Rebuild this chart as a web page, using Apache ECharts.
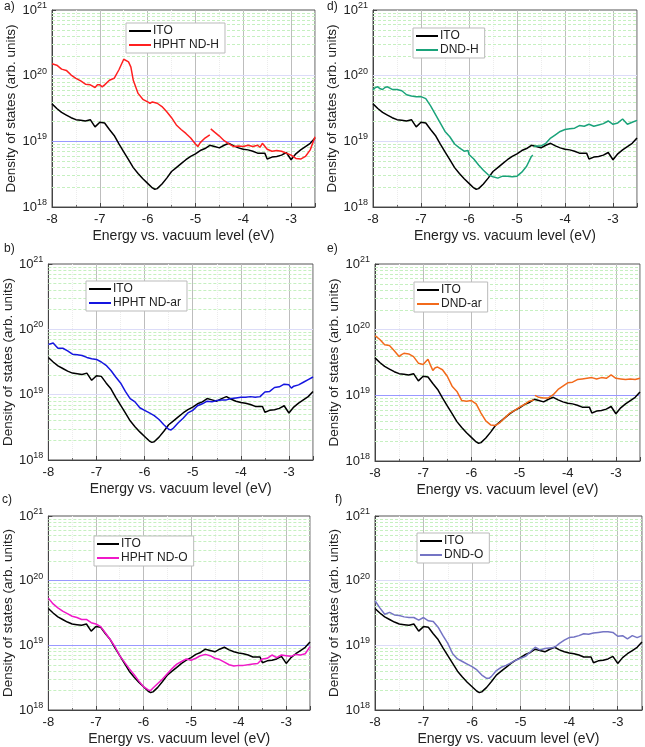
<!DOCTYPE html>
<html><head><meta charset="utf-8">
<script src="https://cdn.jsdelivr.net/npm/echarts@6/dist/echarts.min.js"></script>
<style>html,body{margin:0;padding:0;background:#fff}#c{width:645px;height:747px}</style>
</head><body><div id="c"></div>
<script>
// ---------- DATA (energies in eV, densities as log10 of arb. units) ----------
const xTicks = [-8, -7, -6, -5, -4, -3];
const yTickExponents = [18, 19, 20, 21];

const itoE = [-8.0,-7.9,-7.8,-7.7,-7.6,-7.5,-7.4,-7.3,-7.2,-7.1,-7.0,-6.9,-6.8,-6.7,-6.6,-6.5,-6.4,-6.3,-6.2,-6.1,-6.0,-5.9,-5.85,-5.8,-5.7,-5.6,-5.5,-5.4,-5.3,-5.2,-5.1,-5.0,-4.9,-4.8,-4.7,-4.6,-4.5,-4.4,-4.3,-4.2,-4.1,-4.0,-3.9,-3.8,-3.7,-3.6,-3.55,-3.5,-3.4,-3.3,-3.2,-3.1,-3.0,-2.9,-2.8,-2.7,-2.6,-2.5];
const itoLog = [19.57,19.50,19.44,19.40,19.36,19.33,19.32,19.31,19.33,19.22,19.29,19.28,19.18,19.09,18.96,18.84,18.72,18.60,18.51,18.43,18.36,18.29,18.27,18.28,18.35,18.44,18.54,18.60,18.66,18.72,18.77,18.81,18.86,18.89,18.94,18.92,18.90,18.94,18.97,18.93,18.90,18.88,18.87,18.85,18.82,18.82,18.82,18.73,18.76,18.77,18.79,18.83,18.72,18.81,18.87,18.92,18.97,19.05];

const ndHE = [-8.0,-7.9,-7.8,-7.7,-7.6,-7.5,-7.4,-7.3,-7.2,-7.1,-7.05,-7.0,-6.95,-6.9,-6.8,-6.7,-6.6,-6.5,-6.47,-6.4,-6.35,-6.3,-6.2,-6.1,-6.0,-5.95,-5.9,-5.8,-5.7,-5.6,-5.5,-5.4,-5.3,-5.2,-5.1,-5.0,-4.95,-4.9,-4.8,-4.7,-4.69,-4.68,-4.6,-4.5,-4.4,-4.3,-4.2,-4.1,-4.0,-3.9,-3.8,-3.7,-3.65,-3.6,-3.5,-3.4,-3.3,-3.2,-3.1,-3.0,-2.9,-2.8,-2.7,-2.6,-2.5];
const ndHLog = [20.18,20.16,20.10,20.08,20.01,19.96,19.92,19.87,19.86,19.82,19.86,19.86,19.83,19.86,19.93,19.96,20.09,20.25,20.26,20.21,20.13,19.93,19.73,19.64,19.60,19.58,19.60,19.58,19.53,19.45,19.36,19.25,19.18,19.12,19.05,18.96,18.92,18.98,19.05,19.10,null,19.19,19.14,19.08,19.01,18.96,18.92,18.93,18.92,18.94,18.92,18.94,18.91,18.97,18.88,18.85,18.86,18.85,18.82,18.79,18.74,18.73,18.77,18.87,19.07];

const ndArE = [-8.0,-7.95,-7.9,-7.85,-7.8,-7.7,-7.6,-7.5,-7.4,-7.3,-7.2,-7.1,-7.0,-6.9,-6.8,-6.7,-6.6,-6.5,-6.4,-6.3,-6.2,-6.1,-6.0,-5.9,-5.8,-5.7,-5.6,-5.5,-5.45,-5.4,-5.3,-5.2,-5.1,-5.0,-4.9,-4.8,-4.7,-4.6,-4.5,-4.4,-4.3,-4.2,-4.1,-4.0,-3.9,-3.8,-3.7,-3.6,-3.5,-3.4,-3.3,-3.2,-3.1,-3.0,-2.95,-2.9,-2.8,-2.7,-2.6,-2.5];
const ndArLog = [19.77,19.78,19.79,19.75,19.71,19.71,19.67,19.62,19.61,19.60,19.57,19.55,19.54,19.50,19.45,19.37,19.27,19.18,19.05,18.94,18.89,18.80,18.76,18.72,18.68,18.62,18.54,18.47,18.46,18.49,18.57,18.64,18.72,18.76,18.83,18.86,18.90,18.89,18.91,18.92,18.92,18.94,18.95,18.96,18.96,18.97,18.96,18.97,19.04,19.05,19.11,19.12,19.16,19.15,19.10,19.13,19.15,19.19,19.23,19.27];

const ndOE = [-8.0,-7.9,-7.8,-7.7,-7.6,-7.5,-7.4,-7.3,-7.2,-7.1,-7.0,-6.9,-6.8,-6.7,-6.6,-6.5,-6.4,-6.3,-6.2,-6.1,-6.0,-5.9,-5.85,-5.8,-5.7,-5.6,-5.5,-5.4,-5.3,-5.2,-5.1,-5.0,-4.9,-4.8,-4.7,-4.6,-4.5,-4.4,-4.3,-4.2,-4.1,-4.0,-3.9,-3.8,-3.7,-3.6,-3.5,-3.4,-3.3,-3.2,-3.1,-3.0,-2.9,-2.8,-2.7,-2.6,-2.5];
const ndOLog = [19.73,19.64,19.58,19.53,19.49,19.45,19.43,19.40,19.40,19.35,19.33,19.29,19.19,19.09,18.98,18.84,18.74,18.64,18.55,18.45,18.36,18.31,18.30,18.34,18.41,18.48,18.56,18.64,18.71,18.75,18.79,18.77,18.80,18.84,18.86,18.84,18.80,18.78,18.74,18.70,18.68,18.69,18.69,18.70,18.71,18.72,18.79,18.80,18.85,18.81,18.85,18.84,18.83,18.86,18.85,18.87,18.98];

const dndHE = [-8.0,-7.95,-7.9,-7.85,-7.8,-7.75,-7.7,-7.6,-7.5,-7.4,-7.3,-7.2,-7.1,-7.0,-6.9,-6.8,-6.7,-6.6,-6.5,-6.4,-6.3,-6.2,-6.1,-6.02,-6.0,-5.9,-5.8,-5.7,-5.6,-5.5,-5.4,-5.3,-5.2,-5.1,-5.0,-4.9,-4.8,-4.7,-4.67,-4.66,-4.65,-4.6,-4.5,-4.4,-4.3,-4.2,-4.1,-4.0,-3.9,-3.8,-3.7,-3.6,-3.5,-3.4,-3.3,-3.2,-3.1,-3.0,-2.9,-2.8,-2.7,-2.6,-2.5];
const dndHLog = [19.78,19.82,19.83,19.80,19.79,19.82,19.83,19.79,19.79,19.77,19.71,19.69,19.68,19.68,19.65,19.54,19.41,19.28,19.15,19.07,18.96,18.90,18.85,18.86,18.80,18.73,18.64,18.56,18.49,18.46,18.44,18.47,18.47,18.46,18.47,18.53,18.62,18.77,18.79,null,18.92,18.93,18.93,18.97,19.05,19.10,19.15,19.18,19.19,19.20,19.24,19.23,19.26,19.23,19.25,19.27,19.31,19.26,19.28,19.34,19.26,19.29,19.32];

const dndArE = [-8.0,-7.9,-7.8,-7.7,-7.6,-7.5,-7.45,-7.4,-7.3,-7.2,-7.1,-7.0,-6.95,-6.9,-6.85,-6.8,-6.75,-6.7,-6.6,-6.5,-6.4,-6.3,-6.2,-6.1,-6.0,-5.9,-5.8,-5.7,-5.6,-5.5,-5.4,-5.3,-5.2,-5.1,-5.0,-4.9,-4.8,-4.7,-4.69,-4.68,-4.6,-4.5,-4.4,-4.3,-4.2,-4.1,-4.0,-3.9,-3.8,-3.7,-3.6,-3.5,-3.4,-3.3,-3.2,-3.1,-3.0,-2.9,-2.8,-2.7,-2.6,-2.5];
const dndArLog = [19.91,19.85,19.77,19.76,19.68,19.59,19.62,19.64,19.63,19.59,19.49,19.47,19.51,19.55,19.46,19.38,19.42,19.43,19.39,19.29,19.14,19.06,18.92,18.91,18.92,18.87,18.73,18.61,18.55,18.54,18.59,18.66,18.73,18.77,18.82,18.86,18.91,18.93,null,19.00,18.97,18.96,18.96,19.01,19.09,19.14,19.19,19.20,19.24,19.25,19.26,19.27,19.25,19.27,19.26,19.31,19.26,19.25,19.24,19.25,19.24,19.26];

const dndOE = [-8.0,-7.9,-7.8,-7.7,-7.6,-7.5,-7.4,-7.3,-7.2,-7.1,-7.0,-6.9,-6.8,-6.7,-6.6,-6.5,-6.4,-6.3,-6.2,-6.1,-6.0,-5.9,-5.8,-5.7,-5.65,-5.6,-5.5,-5.4,-5.3,-5.2,-5.1,-5.0,-4.9,-4.8,-4.7,-4.6,-4.5,-4.4,-4.3,-4.2,-4.1,-4.0,-3.9,-3.8,-3.7,-3.6,-3.5,-3.4,-3.3,-3.2,-3.1,-3.0,-2.9,-2.8,-2.7,-2.6,-2.5];
const dndOLog = [19.69,19.58,19.48,19.51,19.47,19.46,19.44,19.43,19.43,19.39,19.43,19.38,19.37,19.28,19.15,19.03,18.87,18.79,18.75,18.71,18.67,18.62,18.54,18.49,18.49,18.52,18.61,18.66,18.69,18.73,18.77,18.80,18.83,18.90,18.97,18.93,18.95,18.96,18.97,19.03,19.08,19.12,19.13,19.15,19.18,19.17,19.19,19.20,19.21,19.21,19.20,19.14,19.15,19.10,19.15,19.12,19.15];

// ---------- LAYOUT ----------
const FONT = 'Liberation Sans, Arial, sans-serif';
const panels = [
  {label:'a)', lx:4,   ly:1,   grid:{left:52, top:10, width:263, height:197}, name:'HPHT ND-H', color:'#ff2020', E:ndHE, L:ndHLog, leg:{left:126, top:23}, strong:[19]},
  {label:'b)', lx:4,   ly:243, grid:{left:48, top:264, width:265, height:196}, name:'HPHT ND-ar', color:'#1515e0', E:ndArE, L:ndArLog, leg:{left:86, top:281}, strong:[]},
  {label:'c)', lx:2,   ly:494, grid:{left:47, top:516, width:263, height:197}, name:'HPHT ND-O', color:'#f018c8', E:ndOE, L:ndOLog, leg:{left:94, top:536}, strong:[19,20]},
  {label:'d)', lx:327, ly:1,   grid:{left:373, top:10, width:264, height:197}, name:'DND-H', color:'#1aa37a', E:dndHE, L:dndHLog, leg:{left:413, top:28}, strong:[]},
  {label:'e)', lx:327, ly:243, grid:{left:375, top:264, width:265, height:197}, name:'DND-ar', color:'#f26a1b', E:dndArE, L:dndArLog, leg:{left:414, top:282}, strong:[19]},
  {label:'f)', lx:335, ly:494, grid:{left:375, top:516, width:267, height:196}, name:'DND-O', color:'#7474c4', E:dndOE, L:dndOLog, leg:{left:417, top:533}, strong:[]}
];

function pairs(E, L) { return E.map((e, i) => [e, L[i] === null ? '-' : Math.pow(10, L[i])]); }

const grids = [], xAxes = [], yAxes = [], series = [], legends = [], graphics = [];
panels.forEach((p, k) => {
  grids.push(Object.assign({show:true, borderColor:'#555', borderWidth:1, backgroundColor:'transparent'}, p.grid));
  xAxes.push({
    type:'value', gridIndex:k, min:-8, max:-2.5, interval:1,
    name:'Energy vs. vacuum level (eV)', nameLocation:'middle', nameGap:22,
    nameTextStyle:{fontFamily:FONT, fontSize:14, color:'#222'},
    axisLine:{show:true, onZero:false, lineStyle:{color:'#444'}},
    axisTick:{inside:true, length:4, lineStyle:{color:'#444'}},
    minorTick:{show:true, splitNumber:2, length:2, lineStyle:{color:'#666'}},
    axisLabel:{fontFamily:FONT, fontSize:13, color:'#222', margin:6,
      formatter: v => xTicks.includes(v) ? String(v) : ''},
    splitLine:{show:true, lineStyle:{color:'#bdbdbd', width:1}},
    minorSplitLine:{show:true, lineStyle:{color:'#ececec', type:'dotted'}}
  });
  yAxes.push({
    type:'log', logBase:10, gridIndex:k, min:1e18, max:1e21, interval:1,
    name:'Density of states (arb. units)', nameLocation:'middle', nameGap:33,
    nameTextStyle:{fontFamily:FONT, fontSize:13.5, color:'#222'},
    axisLine:{show:true, onZero:false, lineStyle:{color:'#444'}},
    axisTick:{inside:true, length:4, lineStyle:{color:'#444'}},
    axisLabel:{fontFamily:FONT, fontSize:13, color:'#222', margin:5,
      formatter: v => { const ex = Math.round(Math.log10(v)); return yTickExponents.includes(ex) ? '10{s|' + ex + '}' : ''; },
      rich:{s:{fontSize:9, fontFamily:FONT, color:'#222', verticalAlign:'top', padding:[0,0,9,0]}}},
    splitLine:{show:false}
  });
  // grid lines: log-minor (2..9 x 10^n) dashed green, decades blue
  const ml = [];
  for (let ex = 18; ex <= 20; ex++) {
    for (let m = 2; m <= 9; m++) ml.push({yAxis: m * Math.pow(10, ex)});
    if (ex > 18) ml.push({yAxis: Math.pow(10, ex), lineStyle:{color: p.strong.includes(ex) ? '#9999ff' : '#dcdcf8', type:'solid', width:1}});
  }
  series.push({
    name:'ITO', type:'line', xAxisIndex:k, yAxisIndex:k, data:pairs(itoE, itoLog),
    showSymbol:false, symbol:'none', z:3, lineStyle:{color:'#000', width:1.5}, itemStyle:{color:'#000'},
    markLine:{silent:true, symbol:'none', label:{show:false}, animation:false, z:1,
      lineStyle:{color:'#c6f0c0', type:[3,2], width:1}, data:ml}
  });
  series.push({
    name:p.name, type:'line', xAxisIndex:k, yAxisIndex:k, data:pairs(p.E, p.L),
    showSymbol:false, symbol:'none', z:4, connectNulls:false,
    lineStyle:{color:p.color, width:1.5}, itemStyle:{color:p.color}
  });
  legends.push({
    data:['ITO', p.name], orient:'vertical', left:p.leg.left, top:p.leg.top,
    padding:[2,6,2,3], itemGap:2, itemWidth:22, itemHeight:2, icon:'rect',
    borderColor:'#bbbbbb', borderWidth:1, backgroundColor:'#fff', selectedMode:false,
    textStyle:{fontFamily:FONT, fontSize:12, color:'#222', padding:[0,0,0,-3]}
  });
  graphics.push({type:'text', left:p.lx, top:p.ly, style:{text:p.label, font:'12px ' + FONT, fill:'#222'}});
});

const chart = echarts.init(document.getElementById('c'), null, {renderer:'canvas'});
chart.setOption({
  animation:false, backgroundColor:'#fff',
  grid:grids, xAxis:xAxes, yAxis:yAxes, series:series, legend:legends, graphic:graphics
});
</script></body></html>
